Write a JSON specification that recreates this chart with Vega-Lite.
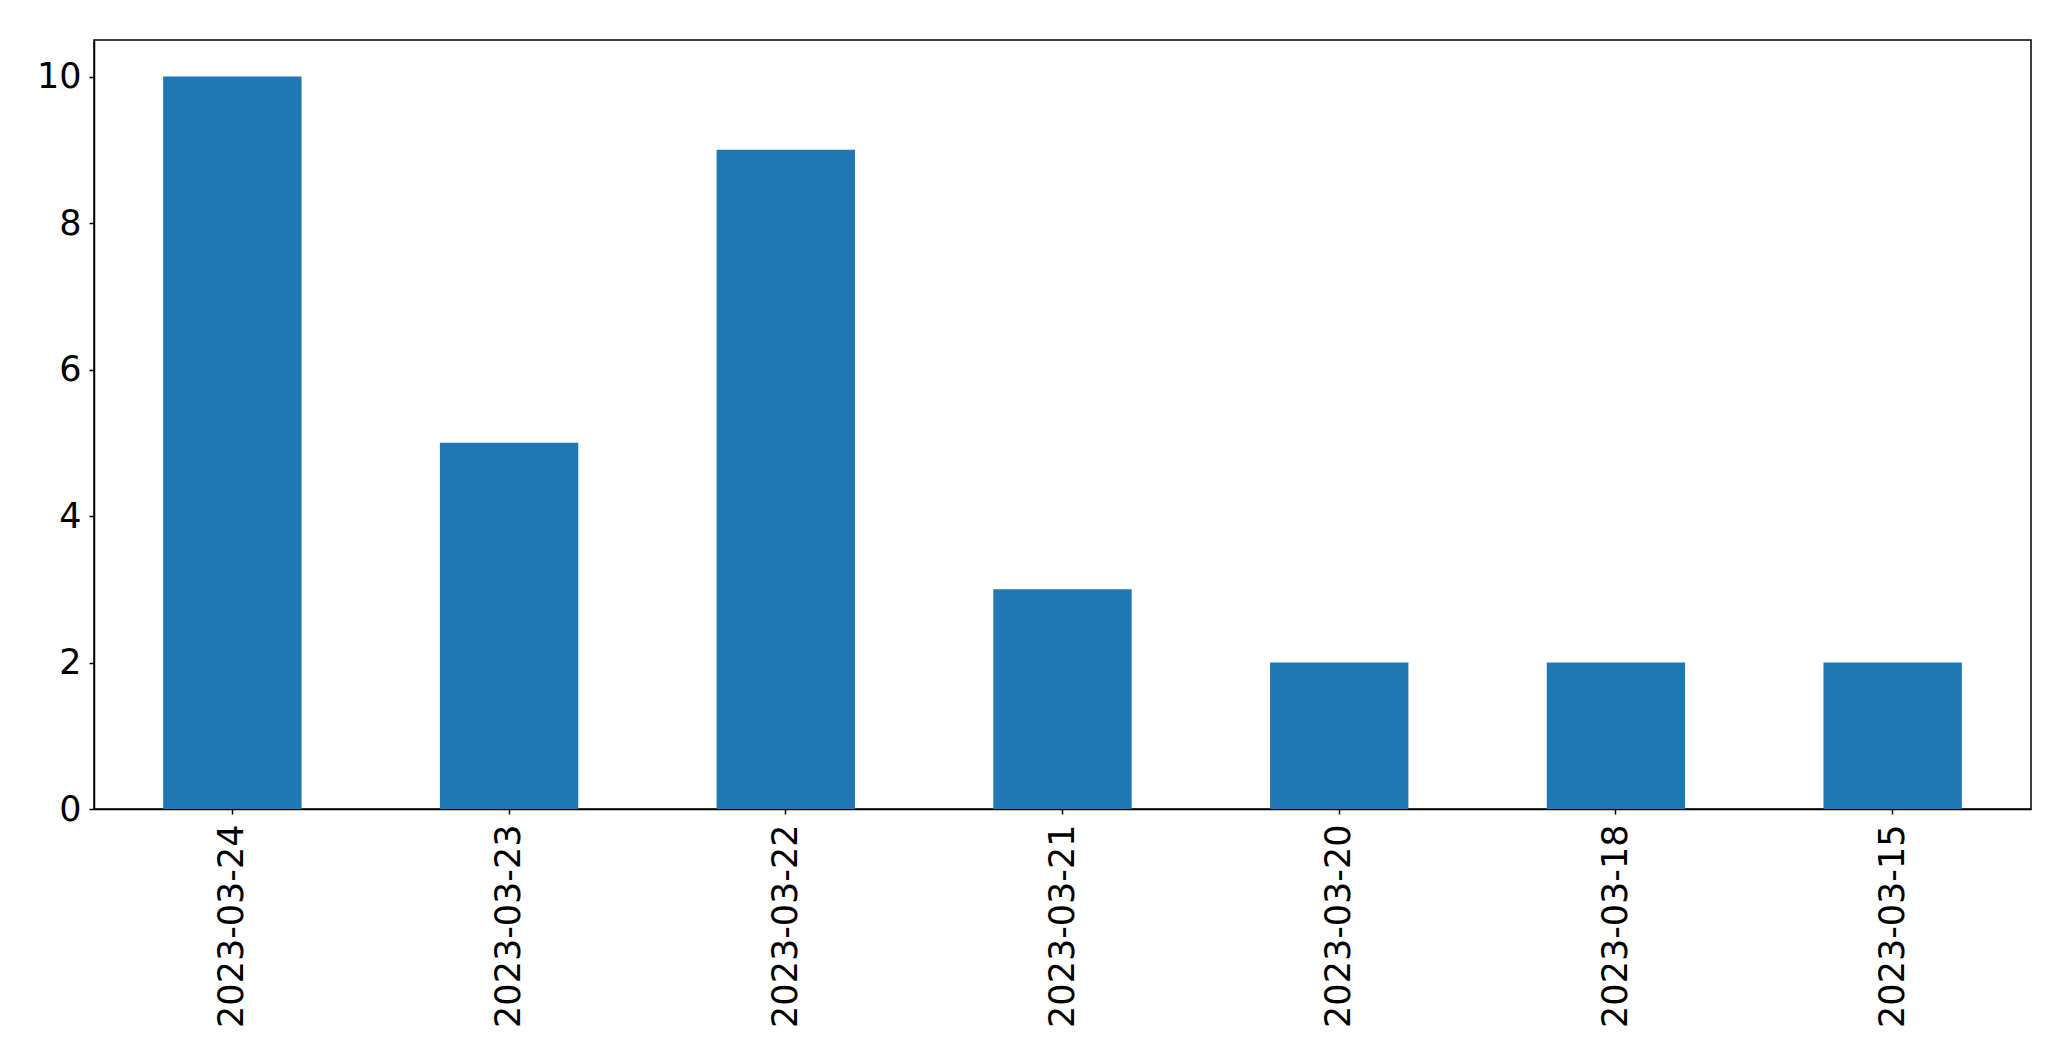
{
  "$schema": "https://vega.github.io/schema/vega-lite/v6.json",
  "autosize": {"type": "none"},
  "padding": {"left": 94, "top": 40, "right": 40, "bottom": 252},
  "width": 1937,
  "height": 769,
  "background": "white",
  "data": {
    "values": [
      {"date": "2023-03-24", "count": 10},
      {"date": "2023-03-23", "count": 5},
      {"date": "2023-03-22", "count": 9},
      {"date": "2023-03-21", "count": 3},
      {"date": "2023-03-20", "count": 2},
      {"date": "2023-03-18", "count": 2},
      {"date": "2023-03-15", "count": 2}
    ]
  },
  "config": {
    "view": {"stroke": "black", "strokeWidth": 1.5},
    "axis": {
      "labelFont": "DejaVu Sans",
      "labelFontSize": 35,
      "labelColor": "black",
      "labelLimit": 0,
      "tickColor": "black",
      "tickWidth": 1.5,
      "domainColor": "black",
      "domainWidth": 1.5,
      "grid": false,
      "title": null
    }
  },
  "mark": {"type": "bar", "color": "#1f77b4"},
  "encoding": {
    "x": {
      "field": "date",
      "type": "nominal",
      "sort": null,
      "scale": {"paddingInner": 0.5, "paddingOuter": 0.25},
      "axis": {"labelAngle": 270, "tickSize": 5, "labelPadding": 10, "labelAlign": "right", "labelBaseline": "middle"}
    },
    "y": {
      "field": "count",
      "type": "quantitative",
      "scale": {"domain": [0, 10.5], "nice": false},
      "axis": {"values": [0, 2, 4, 6, 8, 10], "tickSize": 5, "labelPadding": 8}
    }
  }
}
